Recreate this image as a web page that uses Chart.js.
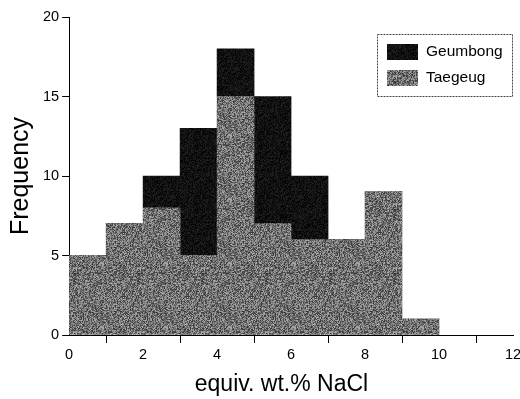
<!DOCTYPE html>
<html>
<head>
<meta charset="utf-8">
<script src="https://cdn.jsdelivr.net/npm/chart.js@4.4.1/dist/chart.umd.min.js"></script>
<style>
  html, body { margin: 0; padding: 0; background: #fff; }
  #wrap { width: 520px; height: 399px; }
</style>
</head>
<body>
<div id="wrap"><canvas id="myChart"></canvas></div>
<script>
// bins are 1 wt.% wide, left edges
const binStart = [0, 1, 2, 3, 4, 5, 6, 7, 8, 9];
// Taegeug counts (bottom, grey)
const taegeug = [5, 7, 8, 5, 15, 7, 6, 6, 9, 1];
// Geumbong counts (stacked on top, black)
const geumbong = [0, 0, 2, 8, 3, 8, 4, 0, 0, 0];
const xTicks = [0, 2, 4, 6, 8, 10, 12];
const xMinor = [1, 3, 5, 7, 9, 11];
const yTicks = [0, 5, 10, 15, 20];

Chart.defaults.font.family = 'Arial, "Liberation Sans", sans-serif';
Chart.defaults.color = '#000';

// speckled fill like the scanned figure
function speckle(lo, hi, seed){
    var c = document.createElement('canvas');
    c.width = 64; c.height = 64;
    var g = c.getContext('2d');
    var img = g.createImageData(64, 64);
    var s = seed;
    for (var i = 0; i < 64*64; i++) {
        s = (s * 1103515245 + 12345) & 0x7fffffff;
        var v = lo + (s % 1000) / 1000 * (hi - lo);
        img.data[i*4] = v; img.data[i*4+1] = v; img.data[i*4+2] = v; img.data[i*4+3] = 255;
    }
    g.putImageData(img, 0, 0);
    return g.createPattern(c, 'repeat');
}
const greyFill = speckle(50, 175, 7);
const blackFill = speckle(0, 35, 3);

// short minor ticks on the x axis
const minorTicks = {
    id: 'minorTicks',
    afterDraw(chart){
        const c = chart.ctx, sx = chart.scales.x, y = chart.chartArea.bottom;
        c.save();
        c.strokeStyle = '#000';
        c.lineWidth = 1;
        xMinor.forEach(v => {
            const px = Math.round(sx.getPixelForValue(v)) + 0.5;
            c.beginPath(); c.moveTo(px, y); c.lineTo(px, y + 4); c.stroke();
        });
        c.restore();
    }
};

const boxLegend = {
    id: 'boxLegend',
    afterDraw(chart){
        const c = chart.ctx, a = chart.chartArea;
        const x0 = a.right - 136, y0 = a.top + 17, w = 135, h = 62;
        c.save();
        c.fillStyle = '#fff';
        c.fillRect(x0, y0, w, h);
        c.setLineDash([2, 1]);
        c.strokeStyle = '#444';
        c.lineWidth = 1;
        c.strokeRect(x0 + 0.5, y0 + 0.5, w, h);
        c.setLineDash([]);
        const ds = chart.data.datasets.slice().reverse();
        c.font = '15.5px Arial, "Liberation Sans", sans-serif';
        c.textBaseline = 'middle';
        ds.forEach((d, i) => {
            const yy = y0 + 18 + i * 26;
            c.fillStyle = d.backgroundColor;
            c.fillRect(x0 + 10, yy - 8, 31, 16);
            c.fillStyle = '#000';
            c.fillText(d.label, x0 + 49, yy);
        });
        c.restore();
    }
};

new Chart(document.getElementById('myChart'), {
    type: 'bar',
    data: {
        datasets: [
            {
                label: 'Taegeug',
                data: binStart.map((b, i) => ({x: b + 0.5, y: taegeug[i]})),
                backgroundColor: greyFill,
                barPercentage: 1, categoryPercentage: 1, borderWidth: 0
            },
            {
                label: 'Geumbong',
                data: binStart.map((b, i) => ({x: b + 0.5, y: geumbong[i]})),
                backgroundColor: blackFill,
                barPercentage: 1, categoryPercentage: 1, borderWidth: 0
            }
        ]
    },
    options: {
        responsive: true,
        maintainAspectRatio: false,
        animation: false,
        layout: { padding: { top: 17, right: 0, left: 6, bottom: 1 } },
        plugins: { legend: { display: false }, tooltip: { enabled: false } },
        scales: {
            x: {
                type: 'linear', stacked: true, offset: false, min: 0, max: 12,
                afterBuildTicks: s => { s.ticks = xTicks.map(v => ({value: v})); },
                afterFit: s => { s.paddingRight = 7; },
                ticks: { font: { size: 14.5 }, maxRotation: 0, padding: 3 },
                grid: { drawOnChartArea: false, drawTicks: true, tickLength: 8, color: '#000' },
                border: { color: '#000', width: 1 },
                title: { display: true, text: 'equiv. wt.% NaCl   ', font: { size: 23 }, padding: { top: 4, bottom: 0 } }
            },
            y: {
                stacked: true, min: 0, max: 20,
                afterBuildTicks: s => { s.ticks = yTicks.map(v => ({value: v})); },
                ticks: { font: { size: 14.5 }, padding: 3 },
                grid: { drawOnChartArea: false, drawTicks: true, tickLength: 7, color: '#000' },
                border: { color: '#000', width: 1 },
                title: { display: true, text: 'Frequency', font: { size: 25 }, padding: { top: 0, bottom: 4 } }
            }
        }
    },
    plugins: [minorTicks, boxLegend]
});
</script>
</body>
</html>
